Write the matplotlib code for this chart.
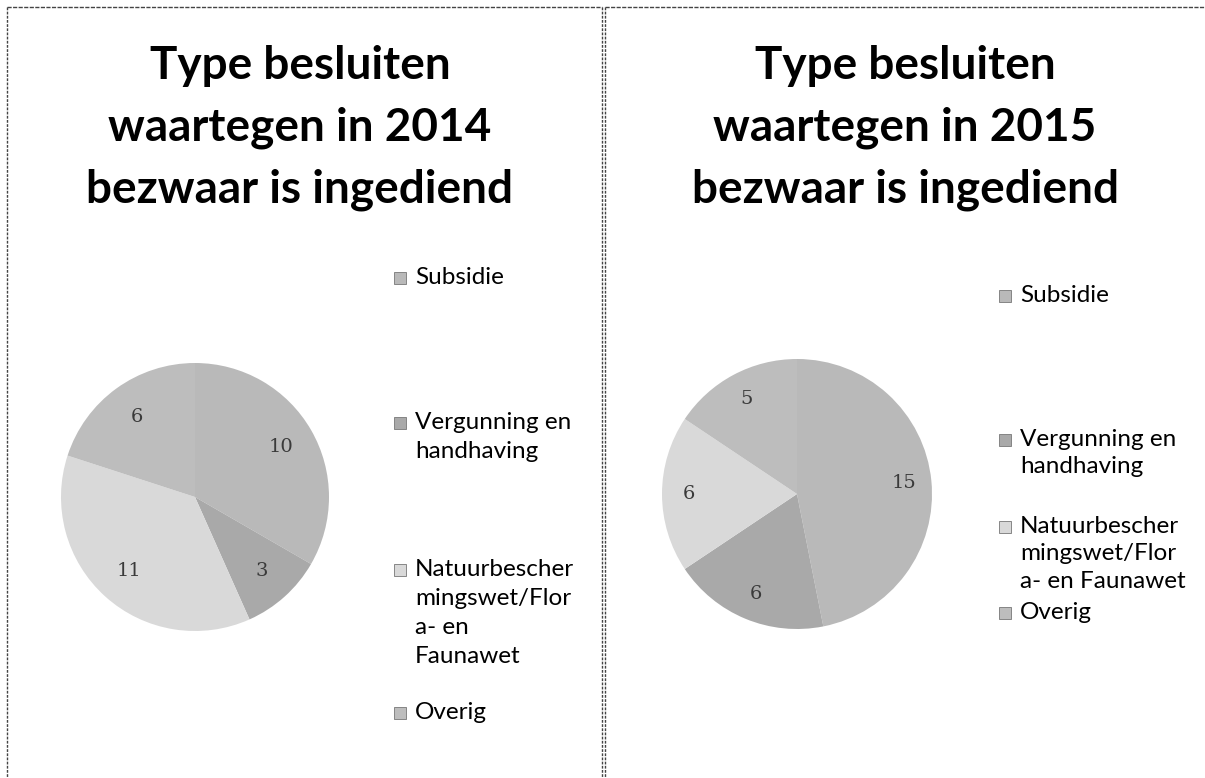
import matplotlib.pyplot as plt
from matplotlib.patches import Rectangle

W, H = 1205, 778

categories = ['Subsidie', 'Vergunning en handhaving',
              'Natuurbeschermingswet/Flora- en Faunawet', 'Overig']
values_2014 = [10, 3, 11, 6]
values_2015 = [15, 6, 6, 5]
years = ['2014', '2015']

# legend labels as wrapped in the original
legend_2014 = ['Subsidie', 'Vergunning en\nhandhaving',
               'Natuurbescher\nmingswet/Flor\na- en\nFaunawet', 'Overig']
legend_2015 = ['Subsidie', 'Vergunning en\nhandhaving',
               'Natuurbescher\nmingswet/Flor\na- en Faunawet', 'Overig']

colors = ['#b9b9b9', '#a9a9a9', '#d9d9d9', '#bdbdbd']

fig = plt.figure(figsize=(W / 100, H / 100), dpi=100)
fig.patch.set_facecolor('white')


def px_axes(x0, y0, w, h):
    # pixel box (top-left origin) -> figure fraction
    return fig.add_axes([x0 / W, 1 - (y0 + h) / H, w / W, h / H])


panels = [
    dict(vals=values_2014, leg=legend_2014, year=years[0], box=(7, 7, 595),
         title_x=300, pie=(195, 497, 134), leg_x=394,
         leg_y=[278, 423, 570, 713], ls=1.48, pct=0.74),
    dict(vals=values_2015, leg=legend_2015, year=years[1], box=(605, 7, 620),
         title_x=905, pie=(797, 494, 135), leg_x=999,
         leg_y=[296, 440, 527, 613], ls=1.37, pct=0.80),
]

# panel borders
bg = fig.add_axes([0, 0, 1, 1])
bg.set_xlim(0, W)
bg.set_ylim(H, 0)
bg.axis('off')
for p in panels:
    x0, y0, w = p['box']
    bg.plot([x0, x0 + w], [y0, y0], color='#444444', lw=1.0, ls=(0, (3, 1)))
    bg.plot([x0, x0], [y0, H], color='#444444', lw=1.0, ls=(0, (2, 1)))
bg.plot([602, 602], [7, H], color='#444444', lw=1.0, ls=(0, (2, 1)))

for p in panels:
    bg.text(p['title_x'], 128,
            f'Type besluiten\nwaartegen in {p["year"]}\nbezwaar is ingediend',
            ha='center', va='center', fontsize=33, fontweight='bold',
            family='Lato', linespacing=1.58, color='black')

    pcx, pcy, r = p['pie']
    ax = px_axes(pcx - r, pcy - r, 2 * r, 2 * r)
    wedges, texts, autotexts = ax.pie(
        p['vals'], colors=colors, startangle=90, counterclock=False,
        autopct=lambda v, vals=p['vals']: f'{round(v * sum(vals) / 100):d}',
        pctdistance=p['pct'], wedgeprops=dict(linewidth=0),
        textprops=dict(fontsize=14, family='DejaVu Serif', color='#3a3a3a'))
    ax.set_xlim(-1, 1)
    ax.set_ylim(-1, 1)
    ax.set_aspect('equal')
    ax.axis('off')

    for lab, c, ly in zip(p['leg'], colors, p['leg_y']):
        bg.add_patch(Rectangle((p['leg_x'], ly - 6), 12, 12, facecolor=c,
                               edgecolor='#777777', lw=0.6))
        bg.text(p['leg_x'] + 21, ly - 11, lab, ha='left', va='top',
                fontsize=17.5, family='Lato', linespacing=p['ls'], color='black')

fig.savefig('out.png', dpi=100)
